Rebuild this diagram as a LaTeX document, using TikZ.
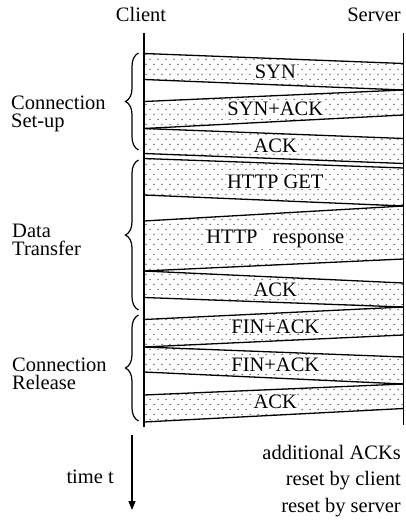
\documentclass[tikz,border=0pt]{standalone}
\usepackage{fontspec}
\setmainfont{Liberation Serif}
\usetikzlibrary{patterns,calc,decorations.pathreplacing,arrows.meta}

% sparse staggered dots used to shade a message in transit
\pgfdeclarepatternformonly{msgdots}{\pgfqpoint{-1pt}{-1pt}}{\pgfqpoint{9pt}{11pt}}{\pgfqpoint{8pt}{10pt}}{%
  \pgfpathcircle{\pgfqpoint{2pt}{2.5pt}}{0.75pt}%
  \pgfpathcircle{\pgfqpoint{6pt}{7.5pt}}{0.75pt}%
  \pgfusepath{fill}}

% one message band: name, top y at client, top y at server,
% bottom y at client, bottom y at server, label
\newcommand\msgband[6]{%
  \coordinate (#1-tc) at (144,#2);
  \coordinate (#1-ts) at (403.5,#3);
  \coordinate (#1-bc) at (144,#4);
  \coordinate (#1-bs) at (403.5,#5);
  \fill[banddots] (#1-tc) -- (#1-ts) -- (#1-bs) -- (#1-bc) -- cycle;
  \draw[bandedge] (#1-tc) -- (#1-ts);
  \draw[bandedge] (#1-bc) -- (#1-bs);
  \node[msg] (#1) at ($($(#1-tc)!0.5!(#1-bc)$)!0.506!($(#1-ts)!0.5!(#1-bs)$)$) {#6};
}

\tikzset{
  txt/.style={inner sep=0pt, font=\fontsize{20.5}{18}\selectfont},
  msg/.style={txt, fill=white, inner xsep=1.5pt, inner ysep=0.5pt},
  banddots/.style={pattern=msgdots, pattern color=black!70},
  bandedge/.style={line width=1.3pt},
  lifeline/.style={line width=1.4pt},
  phase/.style={decorate, decoration={brace, amplitude=13pt}, line width=1.2pt},
}

\begin{document}
\begin{tikzpicture}[x=1pt, y=-1pt]
  \useasboundingbox (0,0) rectangle (405,527);

  % end points
  \node[txt, anchor=base] (client) at (141,22) {Client};
  \node[txt, anchor=base east] (server) at (401,22) {Server};
  \coordinate (c-top) at (144,33);
  \coordinate (c-bot) at (144,427);
  \coordinate (s-top) at (403.5,33);
  \coordinate (s-bot) at (403.5,425);

  % messages
  \msgband{syn}{53.5}{63.5}{79.5}{90}{SYN}
  \msgband{synack}{101.5}{90}{128.5}{115}{SYN+ACK}
  \msgband{ack1}{128.5}{138.5}{153.5}{163.5}{ACK}
  \msgband{get}{158.5}{168}{195}{206}{HTTP GET}
  \msgband{resp}{221}{206}{271}{259}{HTTP\hspace{10pt} response}
  \msgband{ack2}{271}{283}{297.5}{307}{ACK}
  \msgband{fin1}{319.5}{307}{347}{335}{FIN+ACK}
  \msgband{fin2}{347}{357}{372}{384}{FIN+ACK}
  \msgband{ack3}{395}{384}{422}{408.5}{ACK}

  \draw[lifeline] (c-top) -- (c-bot);
  \draw[lifeline] (s-top) -- (s-bot);

  % phases
  \coordinate (b1-top) at (138.5,53);
  \coordinate (b1-bot) at (138.5,150);
  \coordinate (b2-top) at (138.5,160);
  \coordinate (b2-bot) at (138.5,310);
  \coordinate (b3-top) at (138.5,315);
  \coordinate (b3-bot) at (138.5,421);
  \draw[phase] (b1-bot) -- (b1-top);
  \draw[phase] (b2-bot) -- (b2-top);
  \draw[phase] (b3-bot) -- (b3-top);

  \node[txt, anchor=west, align=left] (setup) at (11,114) {Connection\\Set-up};
  \node[txt, anchor=west, align=left] (data) at (12,240) {Data\\Transfer};
  \node[txt, anchor=west, align=left] (release) at (12,373.5) {Connection\\Release};

  % time axis
  \coordinate (t-start) at (132,435);
  \coordinate (t-end) at (132,510);
  \draw[line width=1.4pt, -{Triangle[length=9pt, width=7pt]}] (t-start) -- (t-end);
  \node[txt, anchor=base east] (time) at (114,483) {time t};

  % notes
  \node[txt, anchor=base east] (addacks) at (401,459) {additional ACKs};
  \node[txt, anchor=base east] (rstc) at (401,485.5) {reset by client};
  \node[txt, anchor=base east] (rsts) at (401,512) {reset by server};
\end{tikzpicture}
\end{document}
